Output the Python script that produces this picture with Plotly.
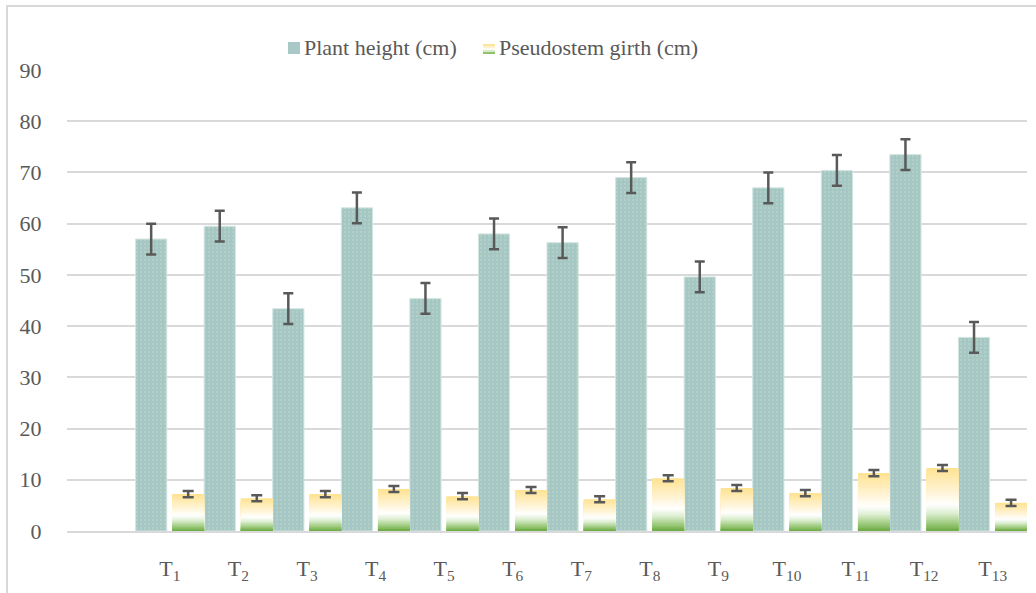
import numpy as np
import plotly.graph_objects as go

# Treatments and measured values (mean ± error)
treatments = ["T<sub>1</sub>", "T<sub>2</sub>", "T<sub>3</sub>", "T<sub>4</sub>", "T<sub>5</sub>",
              "T<sub>6</sub>", "T<sub>7</sub>", "T<sub>8</sub>", "T<sub>9</sub>", "T<sub>10</sub>",
              "T<sub>11</sub>", "T<sub>12</sub>", "T<sub>13</sub>"]
plant_height = [57.0, 59.5, 43.4, 63.1, 45.4, 58.0, 56.3, 69.0, 49.6, 67.0, 70.4, 73.5, 37.8]
height_err = [3.0, 3.0, 3.0, 3.0, 3.0, 3.0, 3.0, 3.0, 3.0, 3.0, 3.0, 3.0, 3.0]
girth = [7.2, 6.4, 7.2, 8.2, 6.8, 8.0, 6.2, 10.3, 8.4, 7.4, 11.3, 12.3, 5.5]
girth_err = [0.6, 0.6, 0.6, 0.6, 0.6, 0.6, 0.6, 0.6, 0.6, 0.6, 0.6, 0.6, 0.6]
series_names = ["Plant height (cm)", "Pseudostem girth (cm)"]

idx = np.arange(len(treatments))
girth_arr = np.array(girth)

FONT = "Liberation Serif"
GREY = "#595959"

W, H = 1036, 593
ML, MR, MT, MB = 67, 9, 70, 62
PW, PH = W - ML - MR, H - MT - MB


def px_x(p):
    return (p - ML) / PW


def px_y(p):
    return (H - MB - p) / PH


# bar geometry inside each category band (x-axis units)
H_OFF, H_W = -0.5, 0.455
G_OFF, G_W = 0.035, 0.465

fig = go.Figure()

fig.add_trace(go.Bar(
    x=idx, y=plant_height, name=series_names[0],
    offset=H_OFF, width=H_W,
    marker=dict(color="#a5c7c5",
                line=dict(color="#d4e6e3", width=1),
                pattern=dict(shape=".", fgcolor="#c6dcc0", bgcolor="#a4c6c5",
                             size=4, solidity=0.25)),
    error_y=dict(type="data", array=height_err, color=GREY, thickness=2.5, width=5),
    hoverinfo="skip", showlegend=False,
))

# vertical gradient for girth bars: green bottom -> white -> yellow top
stops = [(0.0, (108, 170, 66)), (0.12, (156, 202, 124)), (0.28, (220, 238, 208)),
         (0.42, (255, 255, 255)), (0.62, (255, 244, 214)), (1.0, (255, 226, 145))]


def grad_color(f):
    for (f0, c0), (f1, c1) in zip(stops[:-1], stops[1:]):
        if f0 <= f <= f1:
            t = (f - f0) / (f1 - f0)
            c = [round(a + (b - a) * t) for a, b in zip(c0, c1)]
            return "rgb(%d,%d,%d)" % tuple(c)
    return "rgb(%d,%d,%d)" % stops[-1][1]


# nested bars from zero, tallest first, so each shorter bar paints the lower colours
N = 40
for k in range(N - 1, -1, -1):
    f_top = (k + 1) / N
    col = grad_color((k + 0.5) / N)
    fig.add_trace(go.Bar(
        x=idx, y=girth_arr * f_top, name=series_names[1],
        offset=G_OFF, width=G_W,
        marker=dict(color=col, line=dict(width=0)),
        showlegend=False, hoverinfo="skip",
    ))

# error bars for girth, centred on the girth bars
fig.add_trace(go.Scatter(
    x=idx + G_OFF + G_W / 2, y=girth, mode="markers",
    marker=dict(size=1, opacity=0),
    error_y=dict(type="data", array=girth_err, color=GREY, thickness=2.5, width=5.5),
    showlegend=False, hoverinfo="skip",
))

shapes = []
# outer chart frame
shapes.append(dict(type="rect", xref="paper", yref="paper",
                   x0=px_x(7), x1=px_x(1045), y0=px_y(600), y1=px_y(6),
                   line=dict(color="#d9d9d9", width=2), fillcolor="rgba(0,0,0,0)", layer="below"))

# legend keys
shapes.append(dict(type="rect", xref="paper", yref="paper",
                   x0=px_x(288), x1=px_x(300), y0=px_y(54), y1=px_y(42),
                   line=dict(width=0), fillcolor="#a8c9c6"))
key_cols = ["#fde39c", "#fff1cf", "#fdfcf4", "#d8ecca", "#8fc26c"]
for i, c in enumerate(key_cols):
    top = 44 + i * 2
    shapes.append(dict(type="rect", xref="paper", yref="paper",
                       x0=px_x(483), x1=px_x(495), y0=px_y(top + 2), y1=px_y(top),
                       line=dict(width=0), fillcolor=c))

annotations = [
    dict(text=series_names[0], xref="paper", yref="paper", x=px_x(302), y=px_y(48),
         xanchor="left", yanchor="middle", showarrow=False,
         font=dict(family=FONT, size=22, color=GREY)),
    dict(text=series_names[1], xref="paper", yref="paper", x=px_x(497), y=px_y(48),
         xanchor="left", yanchor="middle", showarrow=False,
         font=dict(family=FONT, size=22, color=GREY)),
]

fig.update_layout(
    width=W, height=H,
    margin=dict(l=ML, r=MR, t=MT, b=MB),
    paper_bgcolor="white", plot_bgcolor="white",
    barmode="overlay", showlegend=False,
    font=dict(family=FONT, size=22, color=GREY),
    shapes=shapes, annotations=annotations,
    xaxis=dict(range=[-1.5, 12.5], tickvals=idx, ticktext=treatments,
               showgrid=False, zeroline=False, showline=True,
               linecolor="#d9d9d9", linewidth=2,
               ticks="outside", ticklen=17, tickcolor="rgba(0,0,0,0)",
               tickfont=dict(family=FONT, size=22, color=GREY)),
    yaxis=dict(range=[0, 90], dtick=10, showgrid=True, gridcolor="#d9d9d9", gridwidth=1.5,
               zeroline=False, showline=False,
               ticks="outside", ticklen=20, tickcolor="rgba(0,0,0,0)",
               tickfont=dict(family=FONT, size=22, color=GREY)),
)

fig.write_html("out.html")
